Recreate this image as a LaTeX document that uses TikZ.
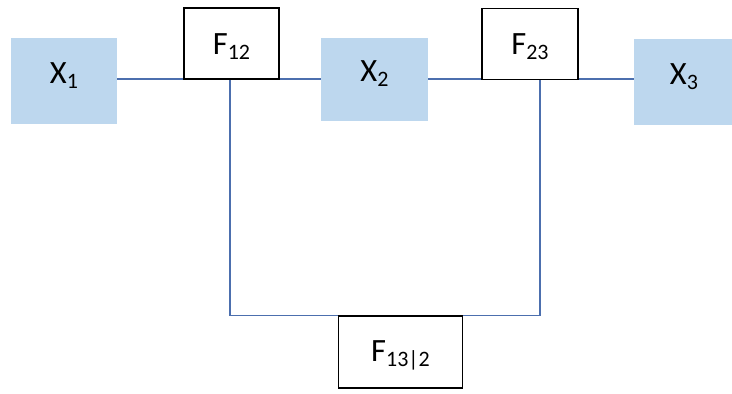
\documentclass[tikz,border=0pt]{standalone}
\usepackage{fontspec}
\setmainfont{Carlito}
\definecolor{boxblue}{HTML}{BDD7EE}
\definecolor{linkblue}{HTML}{4C6FAE}
\newcommand\mysub[1]{\raisebox{-5pt}{\fontsize{22}{22}\selectfont #1}}
\begin{document}
\begin{tikzpicture}[x=1pt,y=-1pt,
  varbox/.style={fill=boxblue,draw=none,minimum width=#1,minimum height=86pt,inner sep=0pt,
    font=\fontsize{32.5}{34}\selectfont,text height=24pt,text depth=20pt},
  facbox/.style={fill=white,draw=black,line width=1.3pt,minimum width=#1,minimum height=71pt,inner sep=0pt,
    font=\fontsize{32.5}{34}\selectfont,text height=40pt,text depth=19pt},
  link/.style={draw=linkblue,line width=1.2pt}]
\useasboundingbox (0,0) rectangle (732,394);
% variable boxes
\node[varbox=106pt] (x1) at (64,81) {X\mysub{1}};
\node[varbox=107pt,minimum height=83pt] (x2) at (374.5,79.5) {X\mysub{2}};
\node[varbox=100pt] (x3) at (684,82) {X\mysub{3}};
% connectors
\coordinate (c1) at (230,79);
\coordinate (c2) at (540,79);
\draw[link] (x1.east |- c1) -- (x2.west |- c1);
\draw[link] (x2.east |- c1) -- (x3.west |- c1);
\node[facbox=124pt,minimum height=72pt,text height=38pt,text depth=20pt] (f13) at (400.5,352) {F\mysub{13|2}};
\draw[link] (c1) |- (f13.north west);
\draw[link] (c2) |- (f13.north east);
% factor boxes
\node[facbox=95pt] (f12) at (231.5,43.5) {F\mysub{12}};
\node[facbox=96pt] (f23) at (530,44) {F\mysub{23}};
\end{tikzpicture}
\end{document}
